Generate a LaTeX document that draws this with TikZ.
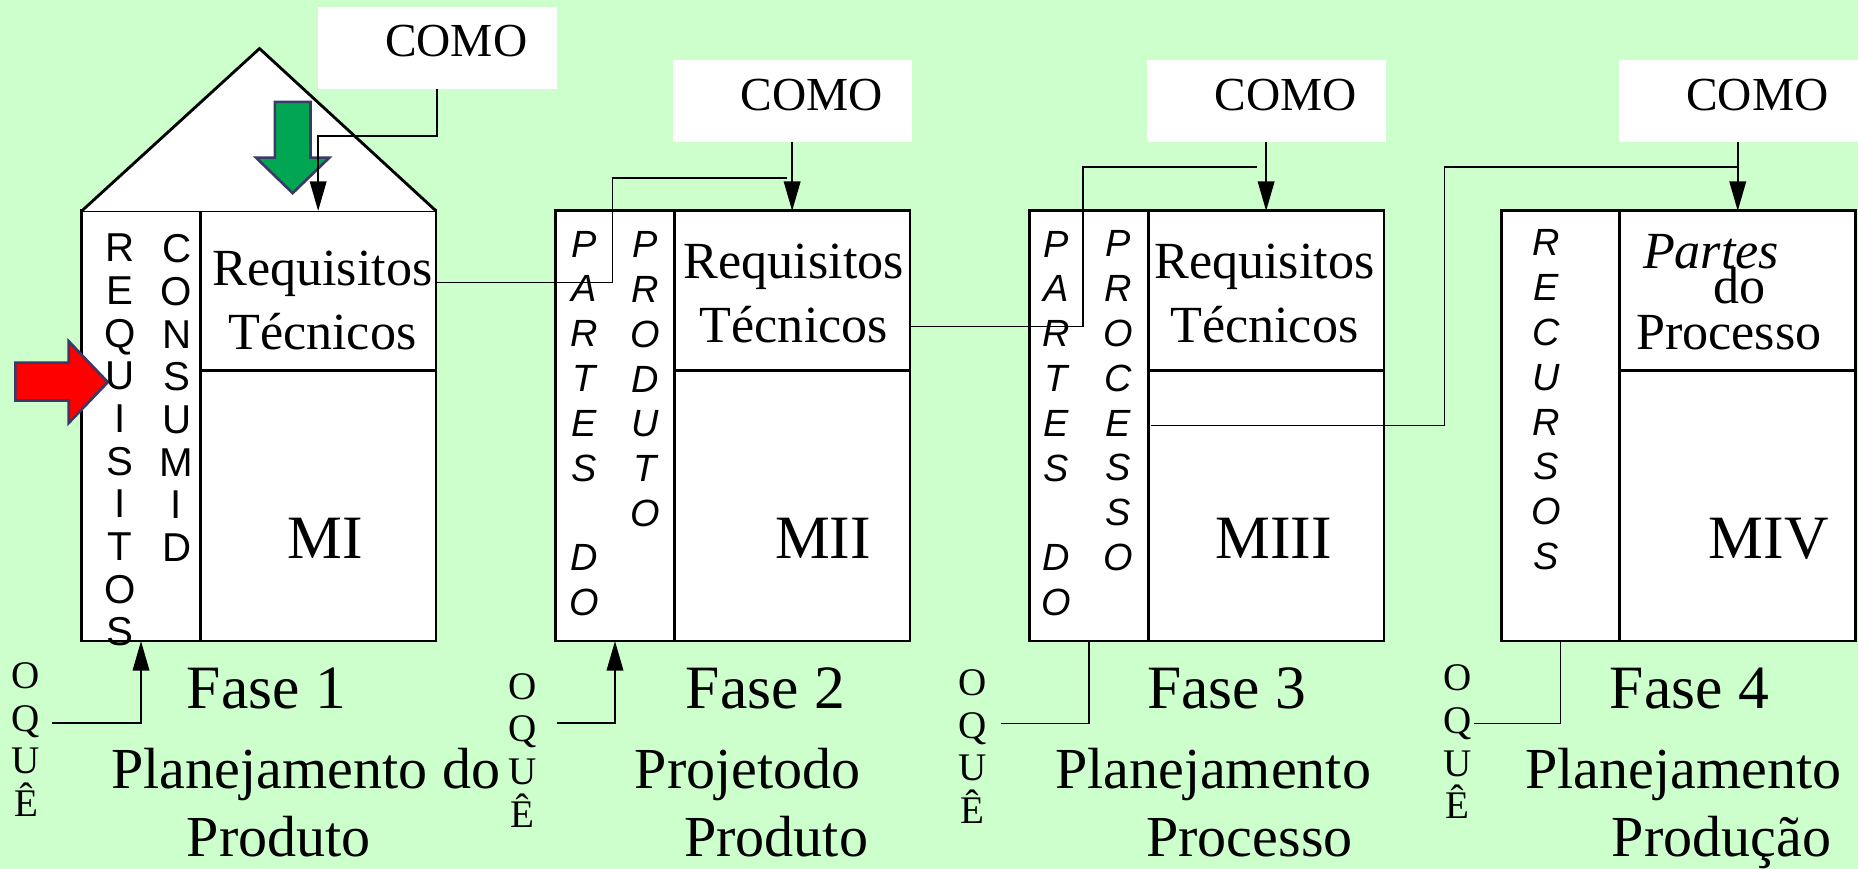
\documentclass[tikz,border=0pt]{standalone}
\usepackage{fontspec}
\setmainfont{Liberation Serif}
\setsansfont{Liberation Sans}
\usepackage{xcolor}
\usepackage{tikz}
\usetikzlibrary{arrows.meta, positioning}

\definecolor{fundo}{HTML}{CCFFCC}
\definecolor{setaverde}{HTML}{00A651}
\definecolor{setacontorno}{HTML}{3A3A66}

\begin{document}
\begin{tikzpicture}[x=1pt, y=-1pt]
        \tikzstyle{coluna} = [rectangle, draw=black, fill=white, line width=2.4pt, minimum width=100pt, minimum height=363pt, inner sep=0pt, outer sep=0pt, anchor=north west]
        \tikzstyle{topo} = [rectangle, draw=black, fill=white, line width=2.4pt, minimum width=199pt, minimum height=135pt, inner sep=0pt, outer sep=0pt, anchor=north west]
        \tikzstyle{matriz} = [rectangle, draw=black, fill=white, line width=2.4pt, minimum width=199pt, minimum height=228pt, inner sep=0pt, outer sep=0pt, anchor=north west]
        \tikzstyle{como} = [rectangle, fill=white, minimum width=202pt, minimum height=69pt, text width=152pt, align=right, inner xsep=25pt, inner ysep=0pt, outer sep=0pt, text depth=11.5pt, font=\fontsize{40}{40}\selectfont]
        \tikzstyle{seta} = [-{Triangle[length=25pt,width=14pt]}, line width=1.6pt]
        \tikzstyle{liga} = [line width=1.4pt]
        \tikzstyle{letras} = [align=center, inner sep=0pt, font=\sffamily\fontsize{34}{36}\selectfont]
        \tikzstyle{letrasit} = [align=center, inner sep=0pt, font=\sffamily\itshape\fontsize{32}{37.8}\selectfont]
        \tikzstyle{oque} = [align=center, inner sep=0pt, font=\fontsize{33}{36}\selectfont]
        \tikzstyle{texto} = [align=center, inner sep=0pt, font=\fontsize{44}{54}\selectfont]
        \tikzstyle{linha} = [anchor=base, inner sep=0pt, font=\fontsize{44}{44}\selectfont]
        \tikzstyle{rotulo} = [anchor=base, inner sep=0pt, font=\fontsize{52}{52}\selectfont]
        \tikzstyle{fase} = [anchor=base, inner sep=0pt, font=\fontsize{52}{52}\selectfont]
        \tikzstyle{nome} = [anchor=base, inner sep=0pt, font=\fontsize{49}{49}\selectfont]

        \fill [fundo] (0,0) rectangle (1568,733);
        \useasboundingbox (0,0) rectangle (1568,733);

        % casa da qualidade (fase 1)
        \node (col1) [coluna] at (69,178) {};
        \node (topo1) [topo] at (col1.north east) {};
        \node (mat1) [matriz] at (topo1.south west) {};
        \coordinate (cume) at (219,41);
        \filldraw [fill=white, line width=2.4pt] (col1.north west) -- (cume) -- (topo1.north east);

        \node (col2) [coluna] at (469,178) {};
        \node (topo2) [topo] at (col2.north east) {};
        \node (mat2) [matriz] at (topo2.south west) {};

        \node (col3) [coluna] at (869,178) {};
        \node (topo3) [topo] at (col3.north east) {};
        \node (mat3) [matriz] at (topo3.south west) {};

        \node (col4) [coluna] at (1267,178) {};
        \node (topo4) [topo] at (col4.north east) {};
        \node (mat4) [matriz] at (topo4.south west) {};

        % setas grossas
        \filldraw [fill=setaverde, draw=setacontorno, line width=2.2pt] (232,86) -- (262,86) -- (262,133) -- (278,133) -- (247,163) -- (216,133) -- (232,133) -- cycle;
        \filldraw [fill=red, draw=setacontorno, line width=2.2pt] (13,306) -- (58,306) -- (58,288) -- (91,322.5) -- (58,357) -- (58,338) -- (13,338) -- cycle;

        \node (como1) [como] at (369,40.5) {COMO};
        \node (como2) [como] at (669,85.5) {COMO};
        \node (como3) [como] at (1069,85.5) {COMO};
        \node (como4) [como] at (1467,85.5) {COMO};

        \node (req1) [letras] at (101,371.5) {R\\E\\Q\\U\\I\\S\\I\\T\\O\\S};
        \node (cons1) [letras] at (149,336) {C\\O\\N\\S\\U\\M\\I\\D};
        \node (partes2) [letrasit] at (493,357.4) {P\\A\\R\\T\\E\\S\\[37.8pt]D\\O};
        \node (produto2) [letrasit] at (544.5,320) {P\\R\\O\\D\\U\\T\\O};
        \node (partes3) [letrasit] at (891,357.4) {P\\A\\R\\T\\E\\S\\[37.8pt]D\\O};
        \node (processo3) [letrasit] at (943.6,338.3) {P\\R\\O\\C\\E\\S\\S\\O};
        \node (recursos4) [letrasit] at (1305,337.4) {R\\E\\C\\U\\R\\S\\O\\S};

        \node (rt1) [texto] at (272,253.5) {Requisitos\\Técnicos};
        \node (rt2) [texto] at (670,248) {Requisitos\\Técnicos};
        \node (rt3) [texto] at (1067,248) {Requisitos\\Técnicos};
        \node (pt4) [linha, font=\itshape\fontsize{44}{44}\selectfont] at (1444,227) {Partes};
        \node (do4) [linha] at (1468,256) {do};
        \node (pc4) [linha] at (1459,294.6) {Processo};

        \node (mi1) [rotulo] at (274.5,471) {MI};
        \node (mi2) [rotulo] at (694.5,471) {MII};
        \node (mi3) [rotulo] at (1075,471) {MIII};
        \node (mi4) [rotulo] at (1492.7,471) {MIV};

        \draw [seta] (como1.south) -- ++(0,40) -| (topo1.north);
        \draw [seta] (como2.south -| topo2.north) -- (topo2.north);
        \draw [seta] (como3.south -| topo3.north) -- (topo3.north);
        \draw [seta] (como4.south -| topo4.north) -- (topo4.north);

        \coordinate (b2) at (517,150);
        \coordinate (j2) at (664,150);
        \coordinate (b3) at (914,141);
        \coordinate (j3) at (1061,141);
        \coordinate (s3) at (971,359);
        \coordinate (k4) at (1219,141);
        \coordinate (j4) at (topo4.north |- k4);
        \draw [liga] ([yshift=7pt]topo1.east) -| (b2) -- (j2);
        \draw [liga] ([yshift=-30pt]topo2.east) -| (b3) -- (j3);
        \draw [liga] (s3) -| (k4) -- (j4);

        \node (oque1) [oque] at (22,624) {O\\Q\\U\\Ê};
        \node (oque2) [oque] at (441,633) {O\\Q\\U\\Ê};
        \node (oque3) [oque] at (821,630) {O\\Q\\U\\Ê};
        \node (oque4) [oque] at (1230,626) {O\\Q\\U\\Ê};
        \draw [seta] ([xshift=10pt,yshift=13.5pt]oque1.east) -| (col1.south);
        \draw [seta] ([xshift=17pt,yshift=22.5pt]oque2.east) -| (col2.south);
        \draw [liga] ([xshift=11.6pt,yshift=19.5pt]oque3.east) -| (col3.south);
        \draw [liga] ([xshift=2pt,yshift=15.5pt]oque4.east) -| (col4.south);

        \node (fase1) [fase] at (224.8,597.5) {Fase 1};
        \node (plan1) [nome] at (258,665.5) {Planejamento do};
        \node (obj1) [nome] at (235.3,722.5) {Produto};
        \node (fase2) [fase] at (646,597.5) {Fase 2};
        \node (plan2) [nome] at (631,665.5) {Projetodo};
        \node (obj2) [nome] at (655,722.5) {Produto};
        \node (fase3) [fase] at (1035.3,597.5) {Fase 3};
        \node (plan3) [nome] at (1023.7,665.5) {Planejamento};
        \node (obj3) [nome] at (1054.5,722.5) {Processo};
        \node (fase4) [fase] at (1425.7,597.5) {Fase 4};
        \node (plan4) [nome] at (1420.5,665.5) {Planejamento};
        \node (obj4) [nome] at (1452.8,722.5) {Produção};
\end{tikzpicture}
\end{document}
